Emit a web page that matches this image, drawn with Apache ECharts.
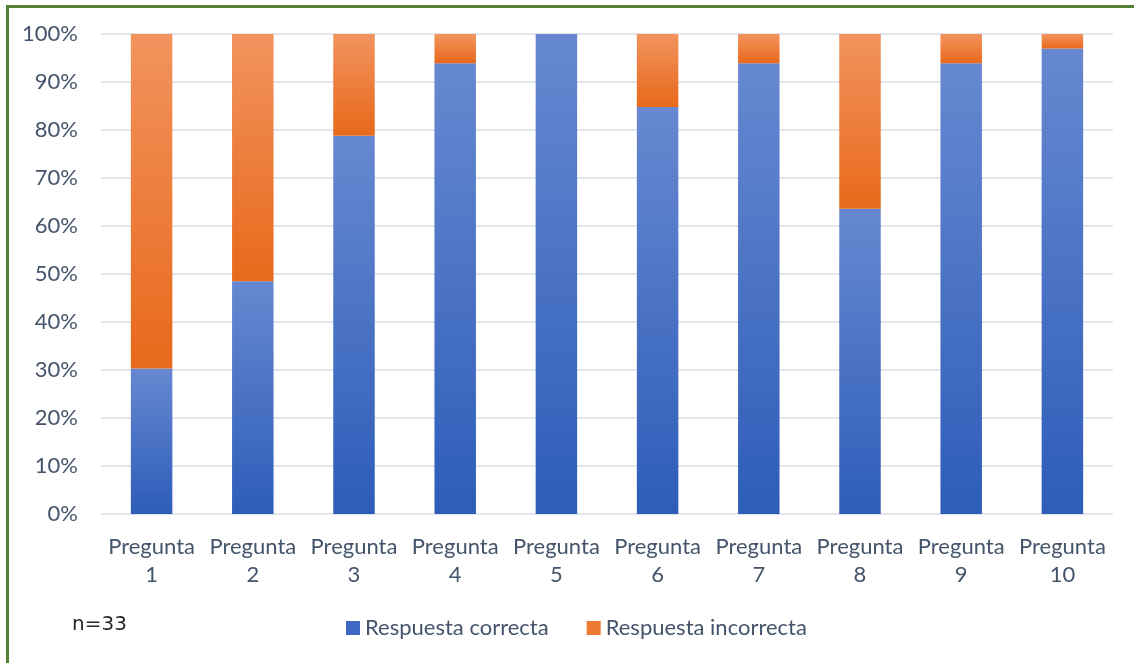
<!DOCTYPE html>
<html>
<head>
<meta charset="utf-8">
<script src="https://cdn.jsdelivr.net/npm/echarts@6/dist/echarts.min.js"></script>
<style>
  html, body { margin: 0; padding: 0; background: #fff; }
  #frame {
    position: absolute; left: 6px; top: 5px; width: 1128px; height: 658px;
    border-left: 3px solid #548235; border-top: 3px solid #548235; box-sizing: border-box;
  }
  #chart { position: absolute; left: 0; top: 0; width: 1134px; height: 663px; }
</style>
</head>
<body>
<div id="frame"></div>
<div id="chart"></div>
<script>
// Questions on the x axis
const categories = ['Pregunta\n1', 'Pregunta\n2', 'Pregunta\n3', 'Pregunta\n4', 'Pregunta\n5',
                    'Pregunta\n6', 'Pregunta\n7', 'Pregunta\n8', 'Pregunta\n9', 'Pregunta\n10'];
// Share of answers per question (%), n = 33
const correctPct   = [30.3, 48.5, 78.8, 93.9, 100.0, 84.8, 93.9, 63.6, 93.9, 97.0];
const incorrectPct = [69.7, 51.5, 21.2,  6.1,   0.0, 15.2,  6.1, 36.4,  6.1,  3.0];
const seriesNames  = ['Respuesta correcta', 'Respuesta incorrecta'];
const sampleNote   = 'n=33';

const textColor = '#44546a';
const fontFam = 'Lato, "Open Sans", sans-serif';
const fontSize = 22;

function vgrad(top, bottom) {
  return new echarts.graphic.LinearGradient(0, 0, 0, 1, [
    { offset: 0, color: top },
    { offset: 1, color: bottom }
  ]);
}
const blueFill = vgrad('#6788d1', '#2d5db8');
const orangeFill = vgrad('#f2935e', '#e8691b');

const chart = echarts.init(document.getElementById('chart'), null, { renderer: 'canvas' });
chart.setOption({
  animation: false,
  grid: { left: 101, right: 21, top: 34, bottom: 149, containLabel: false },
  legend: {
    data: [
      { name: seriesNames[0], itemStyle: { color: '#3f68c2' } },
      { name: seriesNames[1], itemStyle: { color: '#ee7a34' } }
    ],
    bottom: 19, left: 341,
    itemWidth: 14, itemHeight: 14, itemGap: 38,
    icon: 'rect',
    textStyle: { color: textColor, fontSize: fontSize, fontFamily: fontFam }
  },
  xAxis: {
    type: 'category',
    data: categories,
    axisLine: { show: false },
    axisTick: { show: false },
    axisLabel: { color: textColor, fontSize: fontSize, fontFamily: fontFam, lineHeight: 28, margin: 19, interval: 0 }
  },
  yAxis: {
    type: 'value',
    min: 0, max: 100, interval: 10,
    axisLabel: { formatter: '{value}%', color: textColor, fontSize: fontSize, fontFamily: fontFam, margin: 23 },
    splitLine: { lineStyle: { color: '#d9dde4', width: 1.5 } },
    axisLine: { show: false },
    axisTick: { show: false }
  },
  series: [
    {
      name: seriesNames[0], type: 'bar', stack: 'total', data: correctPct,
      barWidth: '41%', itemStyle: { color: blueFill }
    },
    {
      name: seriesNames[1], type: 'bar', stack: 'total', data: incorrectPct,
      barWidth: '41%', itemStyle: { color: orangeFill }
    }
  ],
  graphic: [
    {
      type: 'text', left: 72, top: 615,
      style: { text: sampleNote, fill: '#262626', fontSize: 20, fontFamily: '"DejaVu Sans", sans-serif' }
    }
  ]
});
</script>
</body>
</html>
